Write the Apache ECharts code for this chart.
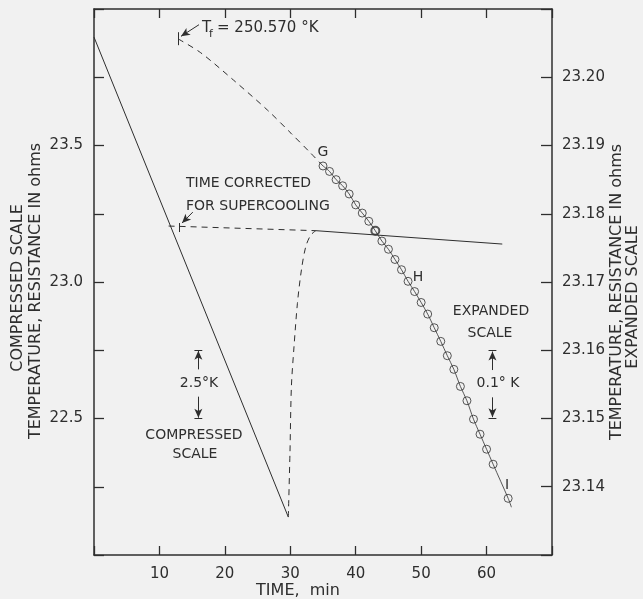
<!DOCTYPE html>
<html>
<head>
<meta charset="utf-8">
<script src="https://cdn.jsdelivr.net/npm/echarts@6/dist/echarts.min.js"></script>
<style>
html, body { margin: 0; padding: 0; background: #f1f1f1; }
#main { width: 643px; height: 599px; }
</style>
</head>
<body>
<div id="main"></div>
<script>
// time axis, minutes
var timeTicks = [10, 20, 30, 40, 50, 60];

// compressed scale (left axis, ohms)
var cooling = [[0, 23.897], [29.7, 22.139]];
var recovery = [[29.7, 22.139], [29.95, 22.373], [30.17, 22.617], [30.57, 22.763], [31.09, 22.922],
	[31.7, 23.044], [32.36, 23.129], [33.13, 23.172], [33.9, 23.188]];
var plateau = [[33.9, 23.188], [62.4, 23.139]];
var correctedTime = [[11.4, 23.205], [33.9, 23.188]];

// expanded scale (right axis, ohms)
var extrapolated = [[12.9, 23.2056], [16.3, 23.2036], [21.3, 23.1996], [26.5, 23.1952],
	[30.1, 23.1918], [33.1, 23.1889], [35, 23.1870]];
var readingMin = [35, 36, 37, 38, 39, 40, 41, 42, 43, 44, 45, 46, 47, 48, 49, 50,
	51, 52, 53, 54, 55, 56, 57, 58, 59, 60, 61, 63.3];
var readingVal = [23.1870, 23.1862, 23.1850, 23.1841, 23.1829, 23.1813, 23.1801, 23.1789, 23.1775,
	23.1760, 23.1748, 23.1733, 23.1718, 23.1701, 23.1686, 23.1670, 23.1653, 23.1633, 23.1613,
	23.1592, 23.1572, 23.1547, 23.1526, 23.1499, 23.1477, 23.1455, 23.1433, 23.1383];
var fitEnd = [63.8, 23.1370];

var ink = '#2e2e2e';
var bg = '#f1f1f1';
var font = '"DejaVu Sans", sans-serif';

var readings = readingMin.map(function (m, i) {
	var item = { value: [m, readingVal[i]] };
	if (m === 43) item.itemStyle = { borderWidth: 2 };
	return item;
});
var fitLine = readingMin.map(function (m, i) { return [m, readingVal[i]]; }).concat([fitEnd]);

function seg(a, b, arrow) {
	return [{ coord: a, symbol: 'none' }, { coord: b, symbol: arrow ? 'arrow' : 'none', symbolSize: [6, 9] }];
}

function txt(x, y, s, size, align) {
	return {
		type: 'text', x: x, y: y, silent: true,
		style: { text: s, font: size + 'px ' + font, fill: ink, align: align || 'center', verticalAlign: 'middle',
			textAlign: align || 'center', textVerticalAlign: 'middle' }
	};
}
function vtxt(x, y, s, size) {
	var t = txt(x, y, s, size);
	t.rotation = Math.PI / 2;
	return t;
}

function axisBase() {
	return {
		type: 'value',
		axisLine: { onZero: false, lineStyle: { color: ink, width: 1.5 } },
		axisTick: { inside: true, length: 10, lineStyle: { color: ink, width: 1.3 } },
		splitLine: { show: false }
	};
}

var xBottom = axisBase();
xBottom.min = 0; xBottom.max = 70; xBottom.interval = 10; xBottom.position = 'bottom';
xBottom.axisTick.length = 9;
xBottom.axisLabel = {
	margin: 12, color: ink, fontSize: 15, fontFamily: font,
	formatter: function (v) { return timeTicks.indexOf(v) >= 0 ? String(v) : ''; }
};

var xTop = axisBase();
xTop.min = 0; xTop.max = 70; xTop.interval = 10; xTop.position = 'top';
xTop.axisTick.length = 9;
xTop.axisLabel = { show: false };

var yLeft = axisBase();
yLeft.min = 22; yLeft.max = 24; yLeft.interval = 0.25; yLeft.position = 'left';
yLeft.axisLabel = {
	margin: 11, color: ink, fontSize: 15, fontFamily: font,
	formatter: function (v) {
		var r = Math.round(v * 100) / 100;
		return (r === 22.5 || r === 23 || r === 23.5) ? r.toFixed(1) : '';
	}
};

var yRight = axisBase();
yRight.min = 23.13; yRight.max = 23.21; yRight.interval = 0.01; yRight.position = 'right';
yRight.axisTick.length = 11;
yRight.axisLabel = {
	margin: 10, color: ink, fontSize: 15, fontFamily: font,
	formatter: function (v) {
		var r = Math.round(v * 100) / 100;
		return (r <= 23.13 || r >= 23.21) ? '' : r.toFixed(2);
	}
};

var myChart = echarts.init(document.getElementById('main'));
var option = {
	backgroundColor: bg,
	animation: false,
	grid: { left: 94, right: 91, top: 9, bottom: 44 },
	xAxis: [xBottom, xTop],
	yAxis: [yLeft, yRight],
	series: [{
		name: 'cooling', type: 'line', yAxisIndex: 0, data: cooling, symbol: 'none',
		lineStyle: { color: ink, width: 1 },
		markLine: {
			silent: true, animation: false, label: { show: false },
			lineStyle: { color: ink, width: 1, type: 'solid' },
			data: [
				seg([15.35, 22.75], [16.55, 22.75]),
				seg([15.95, 22.68], [15.95, 22.748], true),
				seg([15.95, 22.58], [15.95, 22.503], true),
				seg([15.35, 22.5], [16.55, 22.5]),
				seg([13.1, 23.216], [13.1, 23.183]),
				seg([15.1, 23.256], [13.45, 23.216], true)
			]
		}
	}, {
		name: 'recovery', type: 'line', yAxisIndex: 0, data: recovery, symbol: 'none', smooth: 0.3,
		lineStyle: { color: ink, width: 1, type: [6, 5] }
	}, {
		name: 'plateau', type: 'line', yAxisIndex: 0, data: plateau, symbol: 'none',
		lineStyle: { color: ink, width: 1 }
	}, {
		name: 'corrected', type: 'line', yAxisIndex: 0, data: correctedTime, symbol: 'none',
		lineStyle: { color: ink, width: 1, type: [6, 5] }
	}, {
		name: 'extrapolated', type: 'line', yAxisIndex: 1, data: extrapolated, symbol: 'none', smooth: 0.3,
		lineStyle: { color: ink, width: 1, type: [6, 5] }
	}, {
		name: 'fit', type: 'line', yAxisIndex: 1, data: fitLine, symbol: 'none', smooth: 0.3,
		lineStyle: { color: ink, width: 0.8 }
	}, {
		name: 'readings', type: 'scatter', yAxisIndex: 1, data: readings, symbol: 'circle', symbolSize: 8,
		itemStyle: { color: bg, borderColor: ink, borderWidth: 1 },
		markLine: {
			silent: true, animation: false, label: { show: false },
			lineStyle: { color: ink, width: 1, type: 'solid' },
			data: [
				seg([60.3, 23.16], [61.5, 23.16]),
				seg([60.9, 23.1571], [60.9, 23.1598], true),
				seg([60.9, 23.1531], [60.9, 23.1502], true),
				seg([60.3, 23.15], [61.5, 23.15]),
				seg([12.9, 23.2066], [12.9, 23.2047]),
				seg([16.05, 23.2077], [13.3, 23.2060], true)
			]
		}
	}],
	graphic: [
		txt(202, 28, 'T', 15, 'left'),
		txt(209, 34, 'f', 11, 'left'),
		txt(217, 28, '= 250.570 °K', 15, 'left'),
		txt(186, 183, 'TIME CORRECTED', 14, 'left'),
		txt(186, 206, 'FOR SUPERCOOLING', 14, 'left'),
		txt(323, 152, 'G', 14),
		txt(418, 277, 'H', 14),
		txt(507, 485, 'I', 14),
		txt(491, 311, 'EXPANDED', 14),
		txt(490, 333, 'SCALE', 14),
		txt(498, 383, '0.1° K', 14),
		txt(199, 383, '2.5°K', 14),
		txt(194, 435, 'COMPRESSED', 14),
		txt(195, 454, 'SCALE', 14),
		txt(298, 591, 'TIME,  min', 16),
		vtxt(18, 288, 'COMPRESSED SCALE', 16),
		vtxt(36, 291, 'TEMPERATURE, RESISTANCE IN ohms', 16),
		vtxt(617, 292, 'TEMPERATURE, RESISTANCE IN ohms', 16),
		vtxt(633, 297, 'EXPANDED SCALE', 16)
	]
};
myChart.setOption(option);
</script>
</body>
</html>
